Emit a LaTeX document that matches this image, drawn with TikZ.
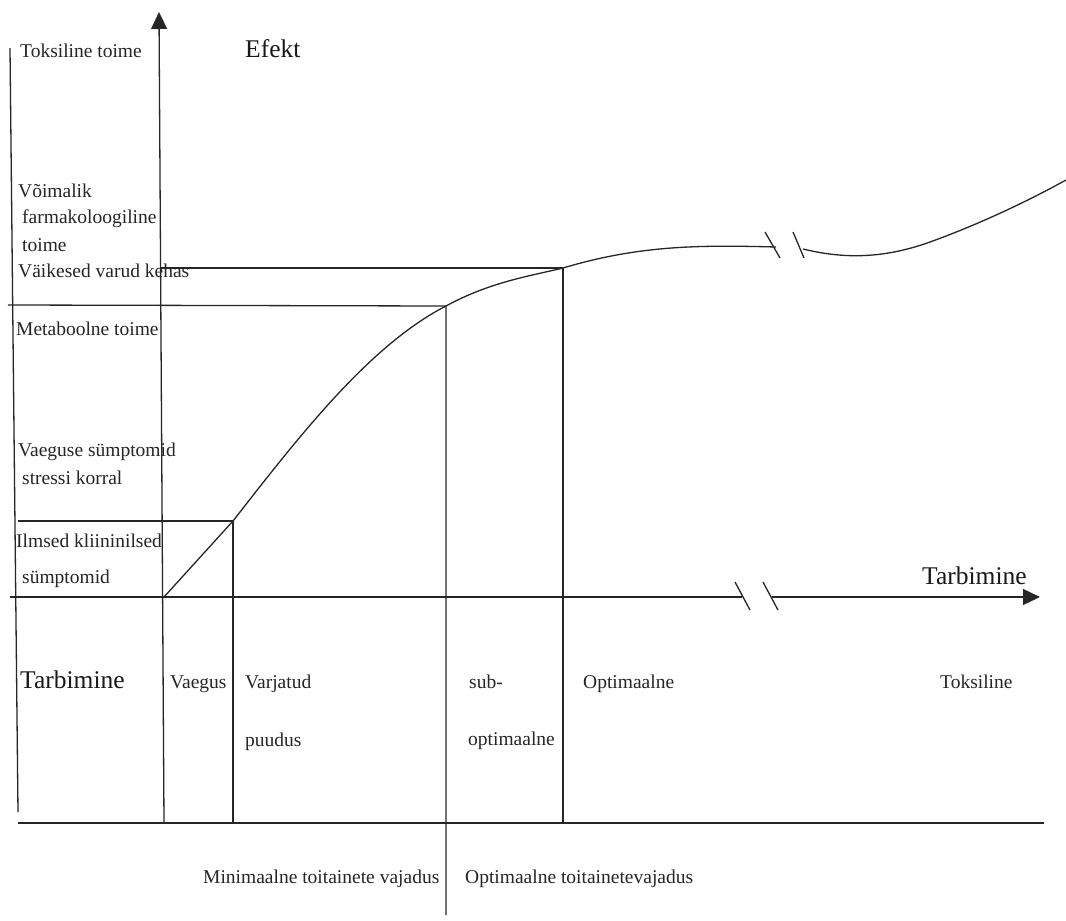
\documentclass[tikz,border=0pt]{standalone}
\usepackage{fontspec}
\setmainfont{Liberation Serif}
\usetikzlibrary{arrows.meta}
\begin{document}
\begin{tikzpicture}[x=1pt,y=-1pt,
  ln/.style={line width=1.3pt,draw=black!85},
  lbl/.style={anchor=base west,inner sep=0pt,font=\fontsize{19.5}{22}\selectfont,text=black!85},
  big/.style={anchor=base west,inner sep=0pt,font=\fontsize{25.5}{28}\selectfont,text=black!90},
  tip/.style={-{Triangle[length=17pt,width=16pt]}}]
\useasboundingbox[fill=white] (0,0) rectangle (1066,921);
% key coordinates
\coordinate (ltop) at (10,48);
\coordinate (lbot) at (18,812);
\coordinate (etop) at (159,12);
\coordinate (ebot) at (164,823);
\coordinate (O) at (164,597);
\coordinate (xl) at (10,597);
\coordinate (xb1) at (742,597);
\coordinate (xb2) at (772,597);
\coordinate (xr) at (1040,597);
\coordinate (bl) at (18,823);
\coordinate (br) at (1044,823);
\coordinate (P1) at (233,521);
\coordinate (P1l) at (18,521);
\coordinate (P1b) at (233,823);
\coordinate (P2) at (446,306);
\coordinate (P2l) at (8,305);
\coordinate (P2b) at (446,915);
\coordinate (P3) at (563,268);
\coordinate (P3l) at (161,268);
\coordinate (P3b) at (563,823);
% axes
\draw[ln] (ltop) -- (lbot);
\draw[ln,tip] (ebot) -- (etop);
\draw[ln] (xl) -- (xb1);
\draw[ln,tip] (xb2) -- (xr);
\draw[ln] (735,582) -- (750,610);
\draw[ln] (763,582) -- (778,610);
\draw[ln] (bl) -- (br);
% guide lines
\draw[ln] (P1l) -- (P1) -- (P1b);
\draw[ln] (P2l) -- (P2) -- (P2b);
\draw[ln] (P3l) -- (P3) -- (P3b);
% curve
\draw[ln] (O) -- (P1) .. controls (300,435) and (370,345) .. (P2)
  .. controls (490,282) and (530,276) .. (P3)
  .. controls (640,245) and (700,245) .. (776,247);
\draw[ln] (765,232) -- (780,258);
\draw[ln] (793,232) -- (804,258);
\draw[ln] (803,249) .. controls (840,258) and (880,260) .. (930,242)
  .. controls (980,224) and (1030,200) .. (1066,180);
% labels
\node[lbl] (t1) at (20,57) {Toksiline toime};
\node[big] (ef) at (245,57) {Efekt};
\node[lbl] (t2) at (18,197) {Võimalik};
\node[lbl] (t3) at (22,223) {farmakoloogiline};
\node[lbl] (t4) at (22,251) {toime};
\node[lbl] (t5) at (18,277) {Väikesed varud kehas};
\node[lbl] (t6) at (16,335) {Metaboolne toime};
\node[lbl] (t7) at (18,456) {Vaeguse sümptomid};
\node[lbl] (t8) at (22,484) {stressi korral};
\node[lbl] (t9) at (16,547) {Ilmsed kliininilsed};
\node[lbl] (t10) at (22,583) {sümptomid};
\node[big] (tb1) at (20,688) {Tarbimine};
\node[big] (tb2) at (922,584) {Tarbimine};
\node[lbl] (z1) at (170,688) {Vaegus};
\node[lbl] (z2) at (245,688) {Varjatud};
\node[lbl] (z3) at (245,746) {puudus};
\node[lbl] (z4) at (469,688) {sub-};
\node[lbl] (z5) at (468,745) {optimaalne};
\node[lbl] (z6) at (583,688) {Optimaalne};
\node[lbl] (z7) at (940,688) {Toksiline};
\node[lbl] (m1) at (203,883) {Minimaalne toitainete vajadus};
\node[lbl] (m2) at (465,883) {Optimaalne toitainetevajadus};
\end{tikzpicture}
\end{document}
